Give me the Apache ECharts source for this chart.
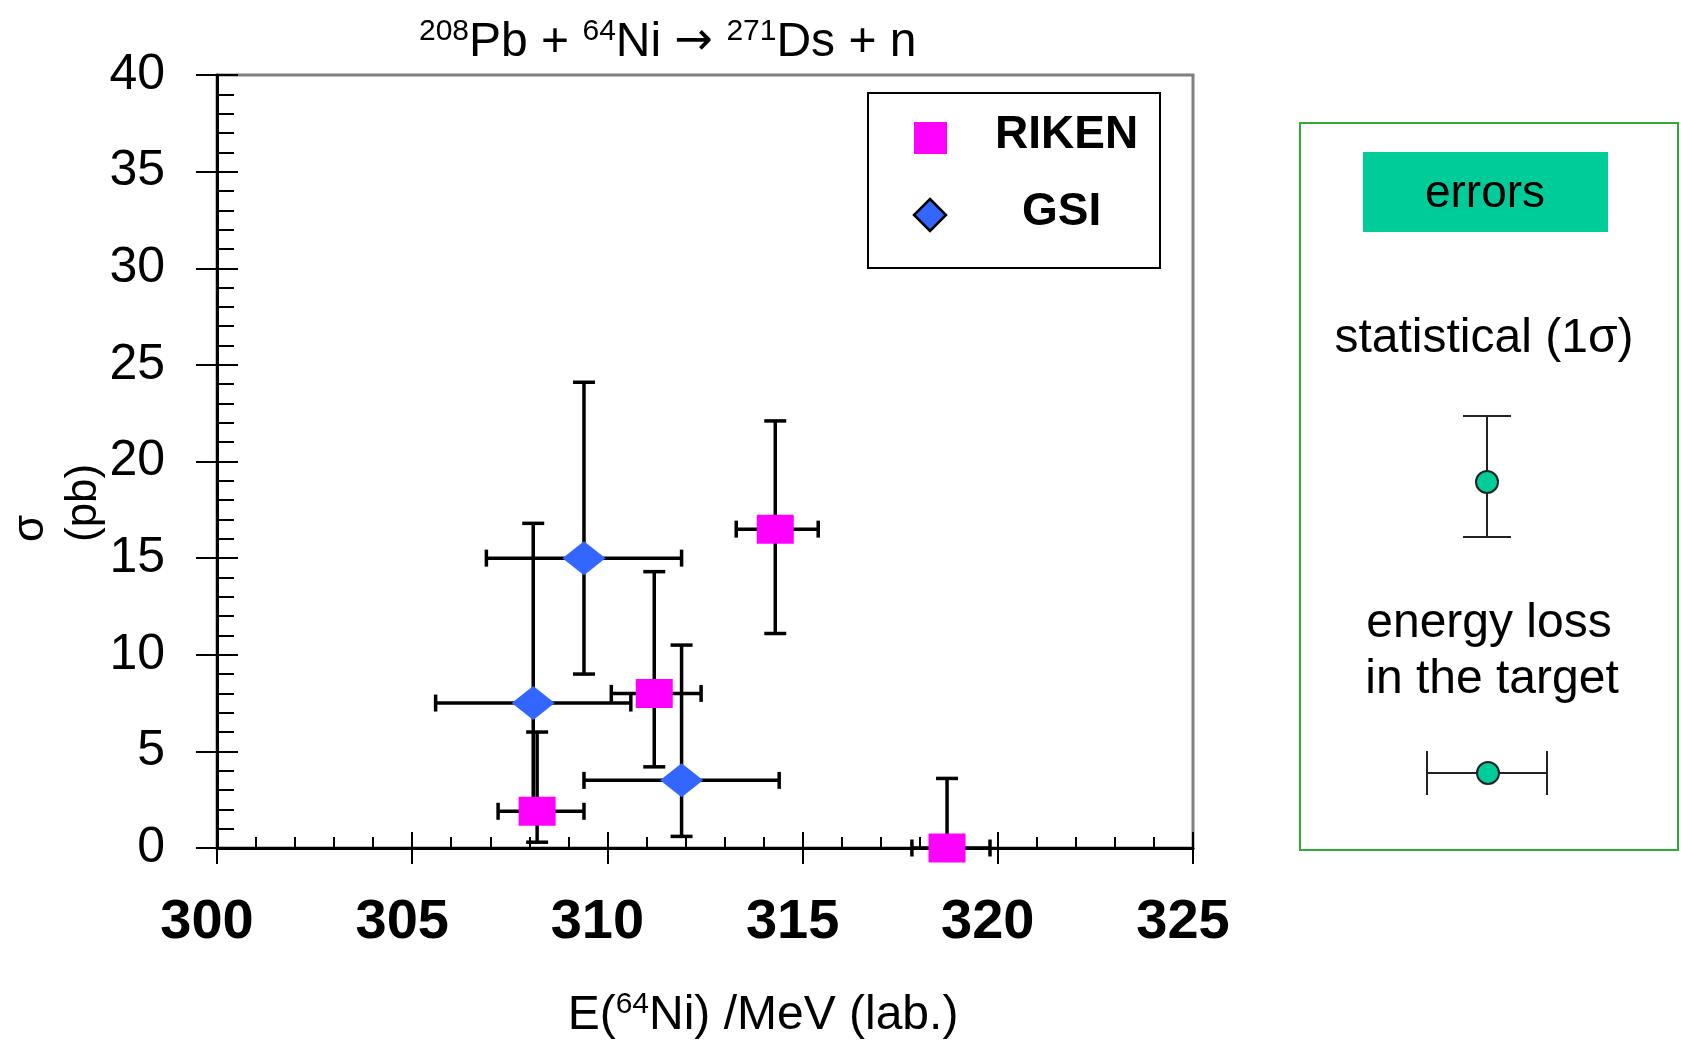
<!DOCTYPE html>
<html>
<head>
<meta charset="utf-8">
<script src="https://cdn.jsdelivr.net/npm/echarts@6/dist/echarts.min.js"></script>
<style>
  html, body { margin: 0; padding: 0; background: #fff; }
  #chart { width: 1681px; height: 1042px; }
</style>
</head>
<body>
<div id="chart"></div>
<script>
// ---- data ----
const rikenX    = [308.2, 311.2, 314.3, 318.7];
const rikenY    = [1.9, 8.0, 16.5, 0.0];
const rikenXlo  = [307.2, 310.1, 313.3, 317.8];
const rikenXhi  = [309.4, 312.4, 315.4, 319.8];
const rikenYlo  = [0.3, 4.2, 11.1, 0.0];
const rikenYhi  = [6.0, 14.3, 22.1, 3.6];

const gsiX      = [308.1, 309.4, 311.9];
const gsiY      = [7.5, 15.0, 3.5];
const gsiXlo    = [305.6, 306.9, 309.4];
const gsiXhi    = [310.6, 311.9, 314.4];
const gsiYlo    = [2.0, 9.0, 0.6];
const gsiYhi    = [16.8, 24.1, 10.5];

const xMin = 300, xMax = 325, xStep = 5;
const yMin = 0, yMax = 40, yStep = 5;

const FONT = 'Liberation Sans, Arial, sans-serif';

function rows(x, y, xl, xh, yl, yh) {
  return x.map((v, i) => [v, y[i], xl[i], xh[i], yl[i], yh[i]]);
}

function renderErr(params, api) {
  const x = api.value(0), y = api.value(1);
  const xl = api.value(2), xh = api.value(3), yl = api.value(4), yh = api.value(5);
  const c = api.coord([x, y]);
  const pyl = api.coord([x, yl]), pyh = api.coord([x, yh]);
  const pxl = api.coord([xl, y]), pxh = api.coord([xh, y]);
  const st = { stroke: '#000', lineWidth: 3.5 };
  const ch = [];
  const capW = 11, capH = 8.5;
  if (yh > y) {
    ch.push({ type: 'line', shape: { x1: c[0], y1: c[1], x2: pyh[0], y2: pyh[1] }, style: st });
    ch.push({ type: 'line', shape: { x1: pyh[0] - capW, y1: pyh[1], x2: pyh[0] + capW, y2: pyh[1] }, style: st });
  }
  if (yl < y) {
    ch.push({ type: 'line', shape: { x1: c[0], y1: c[1], x2: pyl[0], y2: pyl[1] }, style: st });
    ch.push({ type: 'line', shape: { x1: pyl[0] - capW, y1: pyl[1], x2: pyl[0] + capW, y2: pyl[1] }, style: st });
  }
  ch.push({ type: 'line', shape: { x1: pxl[0], y1: pxl[1], x2: pxh[0], y2: pxh[1] }, style: st });
  ch.push({ type: 'line', shape: { x1: pxl[0], y1: pxl[1] - capH, x2: pxl[0], y2: pxl[1] + capH }, style: st });
  ch.push({ type: 'line', shape: { x1: pxh[0], y1: pxh[1] - capH, x2: pxh[0], y2: pxh[1] + capH }, style: st });
  return { type: 'group', children: ch };
}

const chart = echarts.init(document.getElementById('chart'), null, { renderer: 'canvas' });

const tealGreen = '#00CC99';
const boxGreen = '#33AA33';

const option = {
  backgroundColor: '#ffffff',
  animation: false,
  textStyle: { fontFamily: FONT },
  title: {
    text: '{s|208}{m|Pb + }{s|64}{m|Ni }{a|→}{m| }{s|271}{m|Ds + n}',
    left: 414, top: 8,
    textStyle: {
      fontWeight: 'normal',
      rich: {
        m: { fontSize: 48, fontFamily: FONT, fontWeight: 'normal', color: '#000', lineHeight: 54, verticalAlign: 'bottom' },
        a: { fontSize: 46, fontFamily: 'DejaVu Sans', fontWeight: 'normal', color: '#000', lineHeight: 54, verticalAlign: 'bottom', padding: [0, 0, 2, 0] },
        s: { fontSize: 30, fontFamily: FONT, fontWeight: 'normal', color: '#000', lineHeight: 54, verticalAlign: 'top', padding: [4, 0, 0, 0] }
      }
    }
  },
  grid: {
    left: 217, top: 75, right: 1681 - 1193, bottom: 1042 - 848,
    show: true, borderColor: '#808080', borderWidth: 3, backgroundColor: 'transparent'
  },
  xAxis: [
    {
      type: 'value', min: xMin, max: xMax, interval: xStep, position: 'bottom',
      axisLine: { show: true, onZero: false, lineStyle: { color: '#000', width: 3 } },
      axisTick: { show: true, inside: false, length: 16, lineStyle: { color: '#000', width: 2 } },
      minorTick: { show: false },
      splitLine: { show: false },
      axisLabel: { show: true, margin: 46, fontSize: 56, fontWeight: 'bold', color: '#000', fontFamily: FONT, lineHeight: 58, padding: [0, 20, 0, 0] }
    },
    {
      type: 'value', min: xMin, max: xMax, interval: xStep, position: 'bottom',
      axisLine: { show: false, onZero: false },
      axisTick: { show: true, inside: true, length: 16, lineStyle: { color: '#000', width: 2 } },
      minorTick: { show: true, splitNumber: 5, length: 11, lineStyle: { color: '#000', width: 2 } },
      splitLine: { show: false },
      axisLabel: { show: false }
    }
  ],
  yAxis: [
    {
      type: 'value', min: yMin, max: yMax, interval: yStep, position: 'left',
      axisLine: { show: true, onZero: false, lineStyle: { color: '#000', width: 3 } },
      axisTick: { show: true, inside: false, length: 21, lineStyle: { color: '#000', width: 2 } },
      minorTick: { show: false },
      splitLine: { show: false },
      axisLabel: { show: true, margin: 52, fontSize: 50, color: '#000', fontFamily: FONT, padding: [6, 0, 0, 0] }
    },
    {
      type: 'value', min: yMin, max: yMax, interval: yStep, position: 'left',
      axisLine: { show: false, onZero: false },
      axisTick: { show: true, inside: true, length: 21, lineStyle: { color: '#000', width: 2 } },
      minorTick: { show: true, splitNumber: 5, length: 17, lineStyle: { color: '#000', width: 2 } },
      splitLine: { show: false },
      axisLabel: { show: false }
    }
  ],
  series: [
    {
      name: 'GSI err', type: 'custom', xAxisIndex: 0, yAxisIndex: 0,
      renderItem: renderErr, encode: { x: 0, y: 1 },
      data: rows(gsiX, gsiY, gsiXlo, gsiXhi, gsiYlo, gsiYhi), z: 3, clip: false
    },
    {
      name: 'RIKEN err', type: 'custom', xAxisIndex: 0, yAxisIndex: 0,
      renderItem: renderErr, encode: { x: 0, y: 1 },
      data: rows(rikenX, rikenY, rikenXlo, rikenXhi, rikenYlo, rikenYhi), z: 3, clip: false
    },
    {
      name: 'GSI', type: 'scatter', xAxisIndex: 0, yAxisIndex: 0,
      symbol: 'diamond', symbolSize: [43, 34],
      itemStyle: { color: '#3366FF', opacity: 1 },
      data: gsiX.map((v, i) => [v, gsiY[i]]), z: 5, clip: false
    },
    {
      name: 'RIKEN', type: 'scatter', xAxisIndex: 0, yAxisIndex: 0,
      symbol: 'rect', symbolSize: [37, 29],
      itemStyle: { color: '#FF00FF', opacity: 1 },
      data: rikenX.map((v, i) => [v, rikenY[i]]), z: 6, clip: false
    }
  ],
  graphic: [
    // y-axis title
    { type: 'text', x: 31, y: 542, rotation: Math.PI / 2, z: 10,
      style: { text: 'σ', font: '44px ' + FONT, fill: '#000', textAlign: 'left', textVerticalAlign: 'middle' } },
    { type: 'text', x: 84, y: 542, rotation: Math.PI / 2, z: 10,
      style: { text: '(pb)', font: '44px ' + FONT, fill: '#000', textAlign: 'left', textVerticalAlign: 'middle' } },
    // x-axis title
    { type: 'text', x: 763, y: 1013, z: 10,
      style: {
        text: '{m|E(}{s|64}{m|Ni) /MeV (lab.)}', textAlign: 'center', textVerticalAlign: 'middle',
        rich: {
          m: { fontSize: 48, fontFamily: FONT, fill: '#000', lineHeight: 54, verticalAlign: 'bottom' },
          s: { fontSize: 30, fontFamily: FONT, fill: '#000', lineHeight: 54, verticalAlign: 'top', padding: [4, 0, 0, 0] }
        }
      } },
    // legend box
    { type: 'rect', z: 20, shape: { x: 868, y: 93, width: 292, height: 175 },
      style: { fill: '#fff', stroke: '#000', lineWidth: 2 } },
    { type: 'rect', z: 21, shape: { x: 914, y: 122, width: 33, height: 32 },
      style: { fill: '#FF00FF' } },
    { type: 'polygon', z: 21, shape: { points: [[930, 199], [946, 215], [930, 231], [914, 215]] },
      style: { fill: '#3366FF', stroke: '#000', lineWidth: 2.5 } },
    { type: 'text', z: 21, x: 995, y: 135,
      style: { text: 'RIKEN', font: 'bold 46px ' + FONT, fill: '#000', textAlign: 'left', textVerticalAlign: 'middle' } },
    { type: 'text', z: 21, x: 1022, y: 212,
      style: { text: 'GSI', font: 'bold 46px ' + FONT, fill: '#000', textAlign: 'left', textVerticalAlign: 'middle' } },
    // error explanation box
    { type: 'rect', z: 20, shape: { x: 1300, y: 123, width: 378, height: 727 },
      style: { fill: '#fff', stroke: boxGreen, lineWidth: 2 } },
    { type: 'rect', z: 21, shape: { x: 1363, y: 152, width: 245, height: 80 },
      style: { fill: tealGreen } },
    { type: 'text', z: 22, x: 1485, y: 194,
      style: { text: 'errors', font: '46px ' + FONT, fill: '#000', textAlign: 'center', textVerticalAlign: 'middle' } },
    { type: 'text', z: 22, x: 1484, y: 339,
      style: { text: 'statistical (1σ)', font: '48px ' + FONT, fill: '#000', textAlign: 'center', textVerticalAlign: 'middle' } },
    { type: 'line', z: 22, shape: { x1: 1487, y1: 416, x2: 1487, y2: 537 }, style: { stroke: '#222', lineWidth: 2 } },
    { type: 'line', z: 22, shape: { x1: 1463, y1: 416, x2: 1511, y2: 416 }, style: { stroke: '#222', lineWidth: 2 } },
    { type: 'line', z: 22, shape: { x1: 1463, y1: 537, x2: 1511, y2: 537 }, style: { stroke: '#222', lineWidth: 2 } },
    { type: 'circle', z: 23, shape: { cx: 1487, cy: 482, r: 11 }, style: { fill: tealGreen, stroke: '#222', lineWidth: 2 } },
    { type: 'text', z: 22, x: 1489, y: 624,
      style: { text: 'energy loss', font: '48px ' + FONT, fill: '#000', textAlign: 'center', textVerticalAlign: 'middle' } },
    { type: 'text', z: 22, x: 1492, y: 680,
      style: { text: 'in the target', font: '48px ' + FONT, fill: '#000', textAlign: 'center', textVerticalAlign: 'middle' } },
    { type: 'line', z: 22, shape: { x1: 1427, y1: 773, x2: 1547, y2: 773 }, style: { stroke: '#222', lineWidth: 2 } },
    { type: 'line', z: 22, shape: { x1: 1427, y1: 751, x2: 1427, y2: 795 }, style: { stroke: '#222', lineWidth: 2 } },
    { type: 'line', z: 22, shape: { x1: 1547, y1: 751, x2: 1547, y2: 795 }, style: { stroke: '#222', lineWidth: 2 } },
    { type: 'circle', z: 23, shape: { cx: 1488, cy: 773, r: 11 }, style: { fill: tealGreen, stroke: '#222', lineWidth: 2 } }
  ]
};

chart.setOption(option);
</script>
</body>
</html>
